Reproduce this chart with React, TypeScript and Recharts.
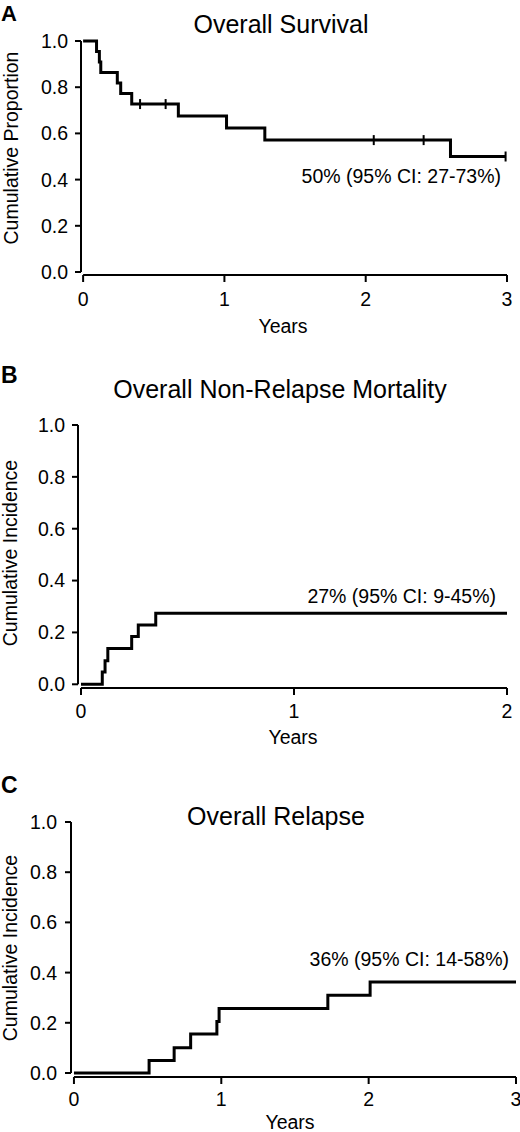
import React from "react"
import {
  ComposedChart,
  Line,
  Scatter,
  XAxis,
  YAxis,
  ReferenceLine,
} from "recharts"

// Overall survival (Kaplan-Meier), n = 22
const osTimes = [0, 0.095, 0.115, 0.125, 0.242, 0.266, 0.344, 0.674, 1.015, 1.286, 2.6, 2.99]
const osValues = [1, 0.955, 0.909, 0.864, 0.818, 0.773, 0.727, 0.675, 0.623, 0.571, 0.5, 0.5]
const osCensorTimes = [0.403, 0.584, 2.057, 2.41, 2.99]
const osCensorValues = [0.727, 0.727, 0.571, 0.571, 0.5]

// Non-relapse mortality (cumulative incidence)
const nrmTimes = [0, 0.1, 0.113, 0.126, 0.238, 0.269, 0.351, 2]
const nrmValues = [0, 0.047, 0.091, 0.138, 0.184, 0.229, 0.274, 0.274]

// Relapse (cumulative incidence)
const relTimes = [0, 0.51, 0.68, 0.792, 0.97, 0.985, 1.723, 2.01, 3]
const relValues = [0, 0.05, 0.101, 0.155, 0.205, 0.257, 0.31, 0.363, 0.363]

const yTicks = [0, 0.2, 0.4, 0.6, 0.8, 1.0]
const xTicks3 = [0, 1, 2, 3]
const xTicks2 = [0, 1, 2]

const FONT = '"Liberation Sans", Arial, Helvetica, sans-serif'
const INK = "#000"

const toPoints = (ts: number[], vs: number[]) => ts.map((t, i) => ({ t, v: vs[i] }))

function CensorMark(props: any) {
  const { cx, cy } = props
  if (cx == null || cy == null) return null
  return <line x1={cx} x2={cx} y1={cy - 5} y2={cy + 5} stroke={INK} strokeWidth={2} />
}

interface PanelProps {
  top: number
  height: number
  margin: { top: number; right: number; bottom: number; left: number }
  xMin: number
  xMax: number
  yMin: number
  xTicks: number[]
  xTickMargin: number
  yTickMargin: number
  curve: { t: number; v: number }[]
  censored?: { t: number; v: number }[]
}

function Panel({ top, height, margin, xMin, xMax, yMin, xTicks, xTickMargin, yTickMargin, curve, censored }: PanelProps) {
  const tickStyle = { fill: INK, fontSize: 19.5, fontFamily: FONT }
  return (
    <div style={{ position: "absolute", left: 0, top, width: 520, height }}>
      <ComposedChart width={520} height={height} margin={margin}>
        <XAxis
          type="number"
          dataKey="t"
          domain={[xMin, xMax]}
          ticks={xTicks}
          height={30}
          axisLine={false}
          tickSize={7}
          tickMargin={xTickMargin}
          tickLine={{ stroke: INK, strokeWidth: 2 }}
          tick={tickStyle}
          interval={0}
        />
        <YAxis
          type="number"
          dataKey="v"
          domain={[yMin, 1]}
          ticks={yTicks}
          width={60}
          axisLine={false}
          tickSize={6}
          tickMargin={yTickMargin}
          tickLine={{ stroke: INK, strokeWidth: 2 }}
          tick={tickStyle}
          tickFormatter={(v: number) => v.toFixed(1)}
          interval={0}
        />
        {/* axis lines drawn apart from each other, as in the original */}
        <ReferenceLine
          segment={[{ x: xMin, y: 0 }, { x: xMin, y: 1 }]}
          stroke={INK}
          strokeWidth={2}
          ifOverflow="visible"
        />
        <ReferenceLine
          segment={[{ x: 0, y: yMin }, { x: xMax, y: yMin }]}
          stroke={INK}
          strokeWidth={2}
          ifOverflow="visible"
        />
        <Line
          data={curve}
          dataKey="v"
          type="stepAfter"
          stroke={INK}
          strokeWidth={3}
          dot={false}
          activeDot={false}
          isAnimationActive={false}
        />
        {censored && (
          <Scatter data={censored} dataKey="v" shape={<CensorMark />} isAnimationActive={false} />
        )}
      </ComposedChart>
    </div>
  )
}

export default function App() {
  const text = { fontFamily: FONT, fill: INK }
  return (
    <div style={{ position: "absolute", left: 0, top: 0, width: 520, height: 1132, background: "#fff" }}>
      <Panel
        top={0}
        height={370}
        margin={{ top: 41, right: 13, bottom: 65, left: 21 }}
        xMin={-0.015}
        xMax={3}
        yMin={-0.013}
        xTicks={xTicks3}
        xTickMargin={10}
        yTickMargin={7}
        curve={toPoints(osTimes, osValues)}
        censored={toPoints(osCensorTimes, osCensorValues)}
      />
      <Panel
        top={370}
        height={390}
        margin={{ top: 55, right: 13, bottom: 42, left: 18 }}
        xMin={-0.014}
        xMax={2}
        yMin={-0.0143}
        xTicks={xTicks2}
        xTickMargin={9}
        yTickMargin={7}
        curve={toPoints(nrmTimes, nrmValues)}
      />
      <Panel
        top={760}
        height={372}
        margin={{ top: 62, right: 4, bottom: 25, left: 11 }}
        xMin={-0.02}
        xMax={3}
        yMin={-0.016}
        xTicks={xTicks3}
        xTickMargin={8}
        yTickMargin={8}
        curve={toPoints(relTimes, relValues)}
      />
      <svg
        width={520}
        height={1132}
        style={{ position: "absolute", left: 0, top: 0, pointerEvents: "none" }}
      >
        {/* panel A */}
        <text x={1} y={20.5} fontSize={22} fontWeight="bold" {...text}>A</text>
        <text x={281} y={33} fontSize={25} textAnchor="middle" {...text}>Overall Survival</text>
        <text x={501} y={182.5} fontSize={19.5} textAnchor="end" {...text}>50% (95% CI: 27-73%)</text>
        <text x={283} y={333} fontSize={19.5} textAnchor="middle" {...text}>Years</text>
        <text x={17.5} y={148} fontSize={19.5} textAnchor="middle" transform="rotate(-90 17.5 148)" {...text}>
          Cumulative Proportion
        </text>

        {/* panel B */}
        <text x={1} y={383} fontSize={23} fontWeight="bold" {...text}>B</text>
        <text x={280} y={398} fontSize={25} textAnchor="middle" {...text}>Overall Non-Relapse Mortality</text>
        <text x={496} y={602.5} fontSize={19.5} textAnchor="end" {...text}>27% (95% CI: 9-45%)</text>
        <text x={293} y={744} fontSize={19.5} textAnchor="middle" {...text}>Years</text>
        <text x={17} y={553} fontSize={19.5} textAnchor="middle" transform="rotate(-90 17 553)" {...text}>
          Cumulative Incidence
        </text>

        {/* panel C */}
        <text x={1} y={792.5} fontSize={23} fontWeight="bold" {...text}>C</text>
        <text x={276} y={824.5} fontSize={25} textAnchor="middle" {...text}>Overall Relapse</text>
        <text x={509} y={966} fontSize={19.5} textAnchor="end" {...text}>36% (95% CI: 14-58%)</text>
        <text x={290} y={1129} fontSize={19.5} textAnchor="middle" {...text}>Years</text>
        <text x={17} y={948} fontSize={19.5} textAnchor="middle" transform="rotate(-90 17 948)" {...text}>
          Cumulative Incidence
        </text>
      </svg>
    </div>
  )
}
